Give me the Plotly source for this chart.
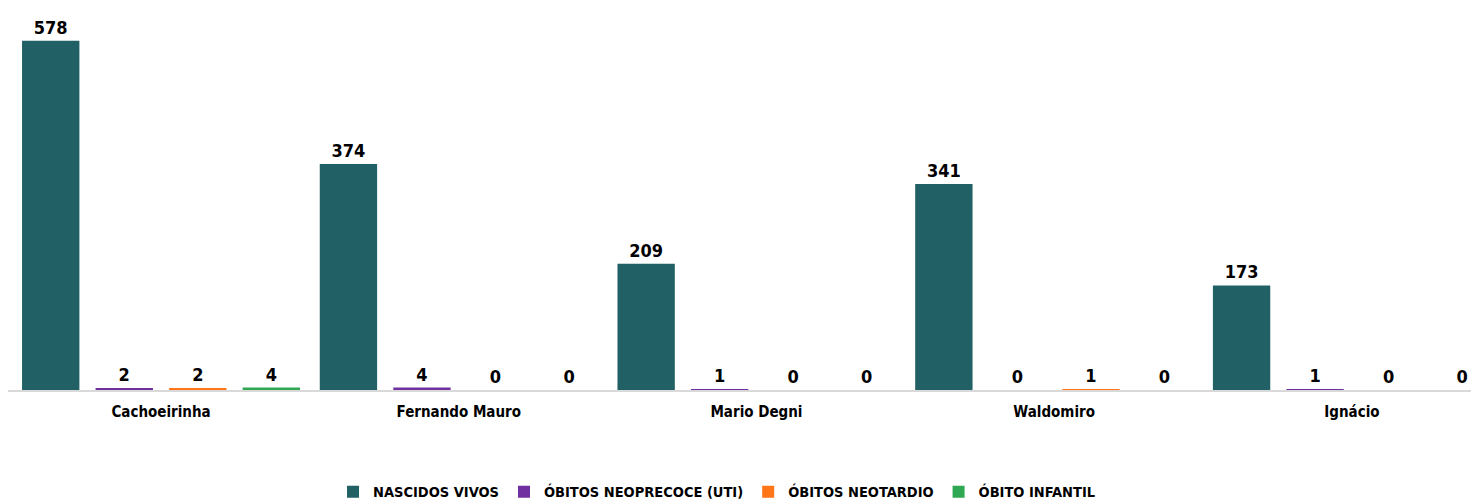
import plotly.graph_objects as go

unidades = ["Cachoeirinha", "Fernando Mauro", "Mario Degni", "Waldomiro", "Ignácio"]
nascidos_vivos = [578, 374, 209, 341, 173]
obitos_neoprecoce = [2, 4, 1, 0, 1]
obitos_neotardio = [2, 0, 0, 1, 0]
obito_infantil = [4, 0, 0, 0, 0]

series = [
    ("NASCIDOS VIVOS", nascidos_vivos, "#216065"),
    ("ÓBITOS NEOPRECOCE (UTI)", obitos_neoprecoce, "#7030A0"),
    ("ÓBITOS NEOTARDIO", obitos_neotardio, "#FF7518"),
    ("ÓBITO INFANTIL", obito_infantil, "#2EA852"),
]

font_family = "DejaVu Sans Condensed, Liberation Sans Narrow, Arial Narrow, Arial"

fig = go.Figure()
for name, vals, color in series:
    fig.add_trace(go.Bar(
        x=unidades, y=vals, name=name,
        marker=dict(color=color, line=dict(width=0)),
        text=vals, textposition="outside", cliponaxis=False,
        textfont=dict(size=18, color="black", family=font_family, weight="bold"),
    ))

# the page adds an 8px body margin, so margins are shifted to compensate
fig.update_layout(
    barmode="group",
    bargap=0.012,
    bargroupgap=0.22,
    width=1479, height=504,
    margin=dict(l=0, r=8, t=2, b=122),
    plot_bgcolor="white",
    paper_bgcolor="white",
    font=dict(family=font_family, color="black"),
    showlegend=True,
    legend=dict(
        orientation="h", x=0.482, xanchor="center", y=-0.268, yanchor="middle",
        font=dict(size=14.5, family=font_family, weight="bold"),
        itemwidth=30, traceorder="normal",
    ),
)
fig.update_xaxes(
    range=[-0.514, 4.427],
    showline=True, linecolor="#D9D9D9", linewidth=2,
    ticks="", ticklabelstandoff=7,
    tickfont=dict(size=15, family=font_family, weight="bold"),
)
fig.update_yaxes(range=[0, 629], visible=False, showgrid=False)

fig.write_html("out.html")
